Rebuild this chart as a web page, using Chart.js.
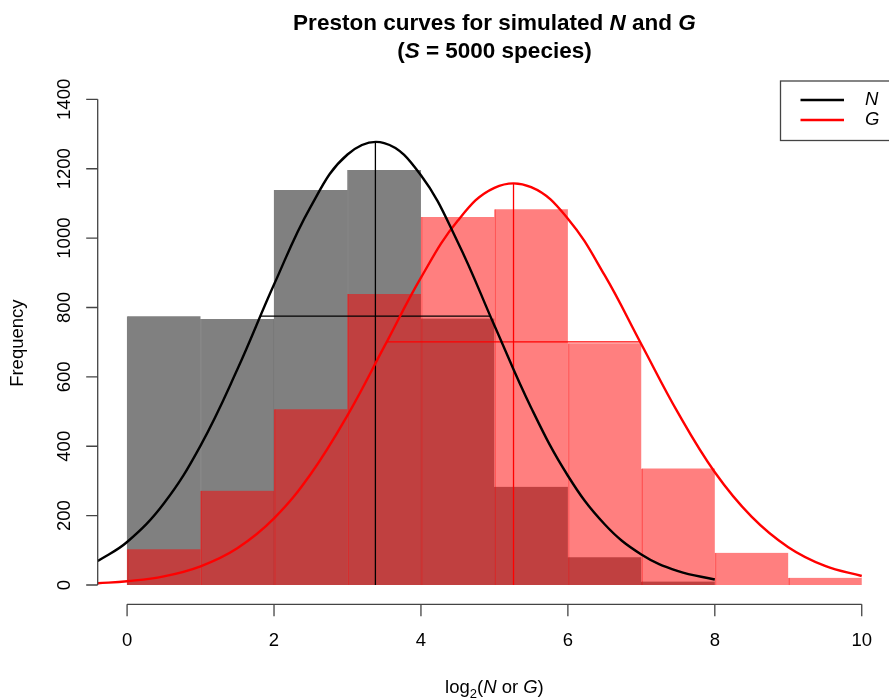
<!DOCTYPE html>
<html>
<head>
<meta charset="utf-8">
<script src="https://cdn.jsdelivr.net/npm/chart.js@4.4.1/dist/chart.umd.min.js"></script>
<style>
  html, body { margin: 0; padding: 0; background: #fff; }
  #wrap { width: 889px; height: 699px; position: relative; }
</style>
</head>
<body>
<div id="wrap"><canvas id="chart"></canvas></div>
<script>
// histogram bins (lower edges, width 1) and counts
const edgesN = [0, 1, 2, 3, 4, 5, 6, 7];
const countsN = [775, 767, 1139, 1196, 768, 283, 80, 10];
const edgesG = [0, 1, 2, 3, 4, 5, 6, 7, 8, 9];
const countsG = [103, 272, 507, 839, 1061, 1083, 697, 336, 93, 21];

// fitted curves
const curveXN = [-0.4, 0, 0.5, 1, 1.5, 2, 2.5, 3, 3.5, 4, 4.5, 5, 5.5, 6, 6.5, 7, 7.5, 8];
const curveN = [69, 124, 235, 402, 621, 866, 1091, 1241, 1274, 1181, 989, 748, 511, 315, 175, 88, 40, 16];
const curveXG = [-0.4, 0, 0.5, 1, 1.5, 2, 2.5, 3, 3.5, 4, 4.5, 5, 5.5, 6, 6.5, 7, 7.5, 8, 8.5, 9, 9.5, 10];
const curveG = [5, 11, 25, 54, 106, 192, 320, 489, 687, 886, 1050, 1145, 1147, 1056, 893, 694, 496, 325, 197, 109, 55, 26];

// mean lines and +-1 sd bars
const meanN = 3.38, peakN = 1278;
const sdSpanN = [1.81, 4.94], sdLevelN = 775;
const meanG = 5.26, peakG = 1158;
const sdSpanG = [3.54, 6.98], sdLevelG = 701;

const xTicks = [0, 2, 4, 6, 8, 10];
const yTicks = [0, 200, 400, 600, 800, 1000, 1200, 1400];

const FONT = '"Liberation Sans", Arial, Helvetica, sans-serif';

function bars(edges, counts) {
    return edges.map((e, i) => ({ x: e + 0.5, y: counts[i] }));
}
function pts(xs, ys) {
    return xs.map((x, i) => ({ x: x, y: ys[i] }));
}

// draw a row of text runs centred at cx
function drawRuns(ctx, runs, cx, cy) {
    let total = 0;
    runs.forEach(r => { ctx.font = r.font; r.w = ctx.measureText(r.t).width; total += r.w; });
    let x = cx - total / 2;
    ctx.textAlign = 'left';
    ctx.textBaseline = 'middle';
    runs.forEach(r => {
        ctx.font = r.font;
        ctx.fillText(r.t, x, cy + (r.dy || 0));
        x += r.w;
    });
}

const decorations = {
    id: 'decorations',
    afterDraw(chart) {
        const ctx = chart.ctx;
        const xs = chart.scales.x, ys = chart.scales.y;
        const area = chart.chartArea;
        ctx.save();
        ctx.fillStyle = '#000';
        ctx.strokeStyle = '#444';
        ctx.lineWidth = 1.3;

        // y axis
        const ax = area.left;
        ctx.beginPath();
        ctx.moveTo(ax, ys.getPixelForValue(yTicks[0]));
        ctx.lineTo(ax, ys.getPixelForValue(yTicks[yTicks.length - 1]));
        yTicks.forEach(v => {
            const py = ys.getPixelForValue(v);
            ctx.moveTo(ax, py);
            ctx.lineTo(ax - 11.5, py);
        });
        ctx.stroke();
        ctx.font = '18.5px ' + FONT;
        ctx.textAlign = 'center';
        ctx.textBaseline = 'middle';
        yTicks.forEach(v => {
            const py = ys.getPixelForValue(v);
            ctx.save();
            ctx.translate(65, py);
            ctx.rotate(-Math.PI / 2);
            ctx.fillText(String(v), 0, 0);
            ctx.restore();
        });

        // x axis
        const ay = area.bottom;
        ctx.beginPath();
        ctx.moveTo(xs.getPixelForValue(xTicks[0]), ay);
        ctx.lineTo(xs.getPixelForValue(xTicks[xTicks.length - 1]), ay);
        xTicks.forEach(v => {
            const px = xs.getPixelForValue(v);
            ctx.moveTo(px, ay);
            ctx.lineTo(px, ay + 12);
        });
        ctx.stroke();
        ctx.font = '18.5px ' + FONT;
        xTicks.forEach(v => {
            ctx.fillText(String(v), xs.getPixelForValue(v), 641);
        });

        // axis titles
        const cx = (xs.getPixelForValue(-0.4) + xs.getPixelForValue(10.4)) / 2;
        drawRuns(ctx, [
            { t: 'log', font: '18.5px ' + FONT },
            { t: '2', font: '13px ' + FONT, dy: 6 },
            { t: '(', font: '18.5px ' + FONT },
            { t: 'N', font: 'italic 18.5px ' + FONT },
            { t: ' or ', font: '18.5px ' + FONT },
            { t: 'G', font: 'italic 18.5px ' + FONT },
            { t: ')', font: '18.5px ' + FONT }
        ], cx, 688);

        ctx.save();
        ctx.translate(18, (area.top + area.bottom) / 2);
        ctx.rotate(-Math.PI / 2);
        ctx.font = '18.5px ' + FONT;
        ctx.textAlign = 'center';
        ctx.textBaseline = 'middle';
        ctx.fillText('Frequency', 0, 0);
        ctx.restore();

        // title
        const b = 'bold 22.5px ' + FONT, bi = 'italic bold 22.5px ' + FONT;
        drawRuns(ctx, [
            { t: 'Preston curves for simulated ', font: b },
            { t: 'N', font: bi },
            { t: ' and ', font: b },
            { t: 'G', font: bi }
        ], cx, 23.5);
        drawRuns(ctx, [
            { t: '(', font: b },
            { t: 'S', font: bi },
            { t: ' = 5000 species)', font: b }
        ], cx, 51.5);

        // legend
        ctx.strokeStyle = '#444';
        ctx.lineWidth = 1.3;
        ctx.strokeRect(780.5, area.top - 1, 120, 59.5);
        ctx.lineWidth = 2.5;
        ctx.strokeStyle = '#000';
        ctx.beginPath(); ctx.moveTo(800.5, 100); ctx.lineTo(844, 100); ctx.stroke();
        ctx.strokeStyle = '#ff0000';
        ctx.beginPath(); ctx.moveTo(800.5, 120); ctx.lineTo(844, 120); ctx.stroke();
        ctx.font = 'italic 18.5px ' + FONT;
        ctx.textAlign = 'left';
        ctx.textBaseline = 'middle';
        ctx.fillStyle = '#000';
        ctx.fillText('N', 865, 100);
        ctx.fillText('G', 865, 120);
        ctx.restore();
    }
};

const segN = { borderColor: '#000', borderWidth: 1.3, pointRadius: 0, tension: 0, fill: false };
const segG = { borderColor: '#ff0000', borderWidth: 1.3, pointRadius: 0, tension: 0, fill: false };

new Chart(document.getElementById('chart'), {
    type: 'bar',
    data: {
        datasets: [
            { type: 'line', data: pts(curveXN, curveN), borderColor: '#000', borderWidth: 2.4,
              pointRadius: 0, tension: 0.4, fill: false, order: 1 },
            { type: 'line', data: pts(curveXG, curveG), borderColor: '#ff0000', borderWidth: 2.4,
              pointRadius: 0, tension: 0.4, fill: false, order: 1 },
            Object.assign({ type: 'line', data: [{ x: meanN, y: 0 }, { x: meanN, y: peakN }], order: 2 }, segN),
            Object.assign({ type: 'line', data: [{ x: sdSpanN[0], y: sdLevelN }, { x: sdSpanN[1], y: sdLevelN }], order: 2 }, segN),
            Object.assign({ type: 'line', data: [{ x: meanG, y: 0 }, { x: meanG, y: peakG }], order: 2 }, segG),
            Object.assign({ type: 'line', data: [{ x: sdSpanG[0], y: sdLevelG }, { x: sdSpanG[1], y: sdLevelG }], order: 2 }, segG),
            { type: 'bar', data: bars(edgesG, countsG), backgroundColor: 'rgba(255,0,0,0.5)',
              borderColor: 'rgba(255,0,0,0.5)', borderWidth: { left: 1, right: 0, top: 0, bottom: 0 },
              borderSkipped: false, grouped: false, barPercentage: 1, categoryPercentage: 1, order: 5 },
            { type: 'bar', data: bars(edgesN, countsN), backgroundColor: '#808080',
              borderColor: 'rgba(0,0,0,0.5)', borderWidth: { left: 1, right: 0, top: 0, bottom: 0 },
              borderSkipped: false, grouped: false, barPercentage: 1, categoryPercentage: 1, order: 6 }
        ]
    },
    options: {
        responsive: true,
        maintainAspectRatio: false,
        animation: false,
        layout: { padding: { top: 82, right: 0, bottom: 0, left: 0 } },
        plugins: { legend: { display: false }, tooltip: { enabled: false }, title: { display: false } },
        scales: {
            x: {
                type: 'linear', min: -0.4, max: 10.371, offset: false,
                afterBuildTicks: axis => { axis.ticks = xTicks.map(v => ({ value: v })); },
                afterFit: scale => { scale.height = 94.7; },
                ticks: { display: false },
                grid: { display: false },
                border: { display: false }
            },
            y: {
                min: -55.6, max: 1450,
                afterBuildTicks: axis => { axis.ticks = yTicks.map(v => ({ value: v })); },
                afterFit: scale => { scale.width = 97.7; },
                ticks: { display: false },
                grid: { display: false },
                border: { display: false }
            }
        }
    },
    plugins: [decorations]
});
</script>
</body>
</html>
